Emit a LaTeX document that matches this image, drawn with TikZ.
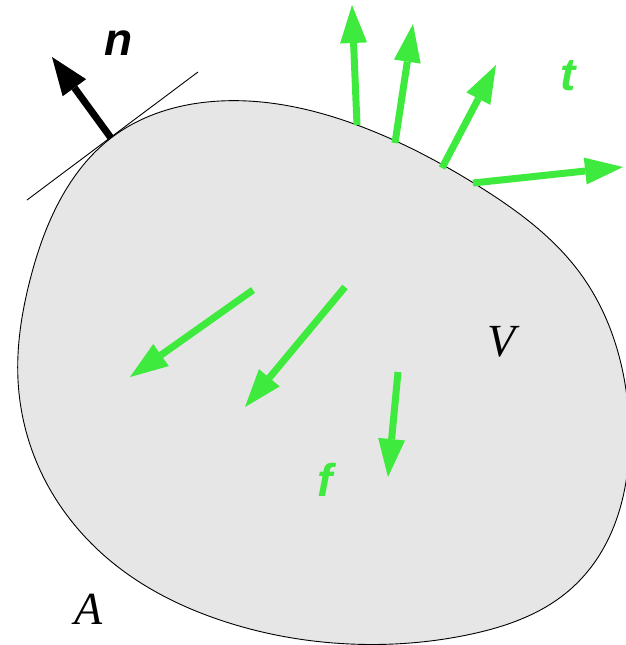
\documentclass[tikz,border=0pt]{standalone}
\usepackage{fontspec}
\setmainfont{Liberation Serif}
\newfontfamily\lblfont{Liberation Sans}
\usetikzlibrary{arrows.meta,hobby}
\definecolor{vecgreen}{RGB}{62,234,62}
\definecolor{bodygray}{RGB}{230,230,230}
\tikzset{
  gvec/.style={draw=vecgreen, line width=7pt, -{Triangle[length=38pt,width=27pt,line width=0pt]}},
  nvec/.style={draw=black, line width=7pt, -{Triangle[length=38pt,width=29pt,line width=0pt]}},
  glabel/.style={text=vecgreen, font=\lblfont\bfseries\itshape\fontsize{46}{50}\selectfont, inner sep=0pt},
  blabel/.style={text=black, font=\lblfont\bfseries\itshape\fontsize{46}{50}\selectfont, inner sep=0pt},
  mlabel/.style={text=black, font=\itshape\fontsize{46}{50}\selectfont, inner sep=0pt}
}
\begin{document}
\begin{tikzpicture}[x=1pt,y=-1pt]
\useasboundingbox (0,0) rectangle (626,645);
% body
\draw[fill=bodygray, line width=0.9pt, use Hobby shortcut, closed=true]
  (111,138) .. (220,101) .. (357,125) .. (480,187) .. (580,273)
  .. (629,420) .. (573,587) .. (467,635) .. (350,644) .. (220,620)
  .. (113,563) .. (40,470) .. (18,380) .. (30,280) .. (60,200);
% tangent line
\coordinate (tanA) at (27,200);
\coordinate (tanB) at (198,72);
\draw[line width=0.9pt] (tanA) -- (tanB);
% normal
\coordinate (nS) at (111,138);
\coordinate (nE) at (52,57);
\draw[nvec] (nS) -- (nE);
% traction vectors
\coordinate (t1s) at (357,125); \coordinate (t1e) at (352,5);
\coordinate (t2s) at (395,143); \coordinate (t2e) at (413,24);
\coordinate (t3s) at (442,168); \coordinate (t3e) at (496,65);
\coordinate (t4s) at (473,183); \coordinate (t4e) at (623,167);
\draw[gvec] (t1s) -- (t1e);
\draw[gvec] (t2s) -- (t2e);
\draw[gvec] (t3s) -- (t3e);
\draw[gvec] (t4s) -- (t4e);
% body force vectors
\coordinate (f1s) at (253,290); \coordinate (f1e) at (130,377);
\coordinate (f2s) at (345,287); \coordinate (f2e) at (245,407);
\coordinate (f3s) at (398,372); \coordinate (f3e) at (388,477);
\draw[gvec] (f1s) -- (f1e);
\draw[gvec] (f2s) -- (f2e);
\draw[gvec] (f3s) -- (f3e);
% labels
\node[blabel] (nlab) at (119,43) {n};
\node[glabel] (tlab) at (568,76) {t};
\node[glabel] (flab) at (325,480) {f};
\node[mlabel] (Vlab) at (502,342) {V};
\node[mlabel] (Alab) at (89,609) {A};
\end{tikzpicture}
\end{document}
